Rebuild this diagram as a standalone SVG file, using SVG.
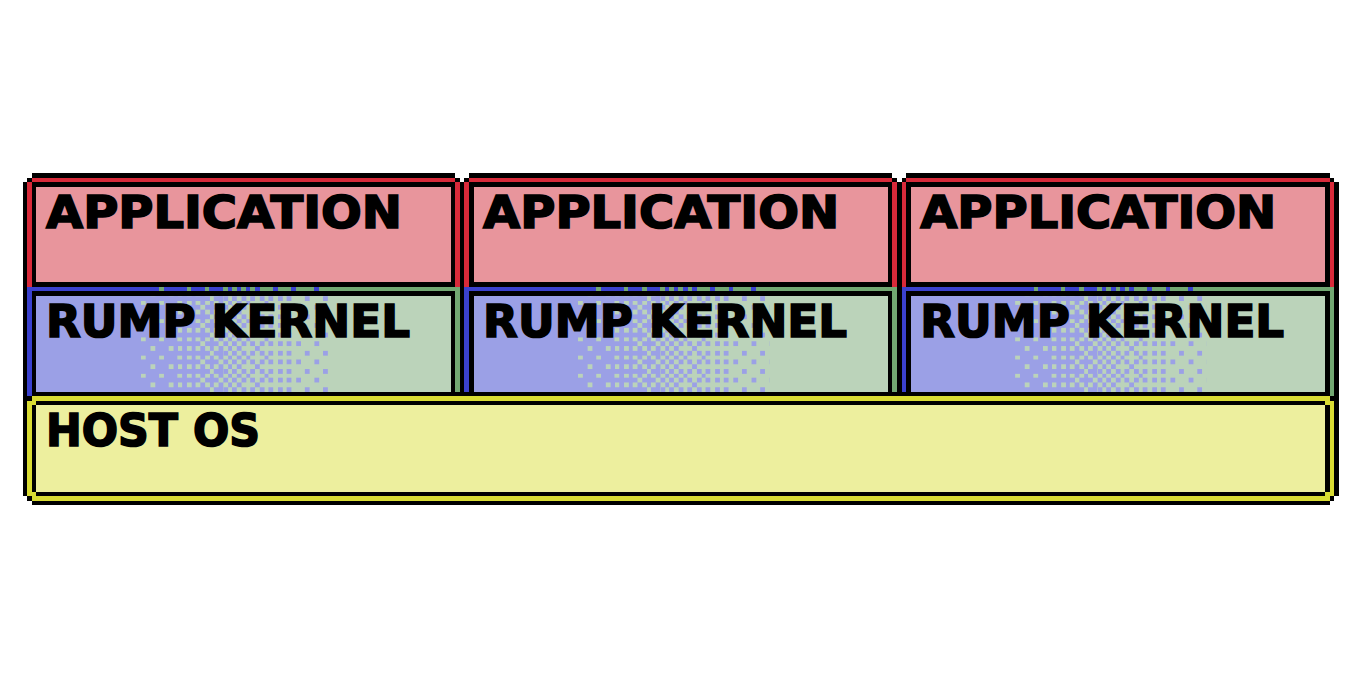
<svg xmlns="http://www.w3.org/2000/svg" xmlns:xlink="http://www.w3.org/1999/xlink" width="1366" height="683" viewBox="0 0 1366 683">
<style>
.k{fill:#000000}
.red{fill:#D82A3A}
.pink{fill:#E8959C}
.blue{fill:#3B41CE}
.pblue{fill:#9BA0E6}
.green{fill:#72A872}
.pgreen{fill:#BBD3BA}
.yel{fill:#D9DC33}
.pyel{fill:#EDEF9E}
rect,path{shape-rendering:crispEdges}
.lbl{font-family:"DejaVu Sans","Liberation Sans",sans-serif;font-weight:bold;font-size:44px;fill:#000000;stroke:#000000;stroke-width:1.6px}
</style>
<defs>
<pattern id="d2" patternUnits="userSpaceOnUse" x="0" y="0" width="4" height="4"><rect class="pblue" width="4" height="4"/><path class="pgreen" d="M1 0h1v1h-1zM3 2h1v1h-1z"/></pattern>
<pattern id="d4" patternUnits="userSpaceOnUse" x="0" y="0" width="4" height="4"><rect class="pblue" width="4" height="4"/><path class="pgreen" d="M1 0h1v1h-1zM3 2h1v1h-1zM3 0h1v1h-1zM1 2h1v1h-1z"/></pattern>
<pattern id="d6" patternUnits="userSpaceOnUse" x="0" y="0" width="4" height="4"><rect class="pblue" width="4" height="4"/><path class="pgreen" d="M1 0h1v1h-1zM3 2h1v1h-1zM3 0h1v1h-1zM1 2h1v1h-1zM2 1h1v1h-1zM0 3h1v1h-1z"/></pattern>
<pattern id="d8" patternUnits="userSpaceOnUse" x="0" y="0" width="4" height="4"><rect class="pblue" width="4" height="4"/><path class="pgreen" d="M1 0h1v1h-1zM3 2h1v1h-1zM3 0h1v1h-1zM1 2h1v1h-1zM2 1h1v1h-1zM0 3h1v1h-1zM0 1h1v1h-1zM2 3h1v1h-1z"/></pattern>
<pattern id="d10" patternUnits="userSpaceOnUse" x="0" y="0" width="4" height="4"><rect class="pgreen" width="4" height="4"/><path class="pblue" d="M0 0h1v1h-1zM2 2h1v1h-1zM1 1h1v1h-1zM3 3h1v1h-1zM3 1h1v1h-1zM1 3h1v1h-1z"/></pattern>
<pattern id="d12" patternUnits="userSpaceOnUse" x="0" y="0" width="4" height="4"><rect class="pgreen" width="4" height="4"/><path class="pblue" d="M1 1h1v1h-1zM3 3h1v1h-1zM3 1h1v1h-1zM1 3h1v1h-1z"/></pattern>
<pattern id="d14" patternUnits="userSpaceOnUse" x="0" y="0" width="4" height="4"><rect class="pgreen" width="4" height="4"/><path class="pblue" d="M3 1h1v1h-1zM1 3h1v1h-1z"/></pattern>
<g id="appShape">
<rect class="k" x="7" y="38" width="93" height="25"/>
<rect class="k" x="5" y="40" width="97" height="23"/>
<rect class="k" x="6" y="39" width="95" height="1"/>
<rect class="red" x="7" y="39" width="93" height="1"/>
<rect class="red" x="6" y="40" width="1" height="23"/>
<rect class="red" x="100" y="40" width="1" height="23"/>
<rect class="pink" x="8" y="41" width="91" height="21"/>
</g>
<g id="rumpShape">
<rect class="k" x="5" y="63" width="97" height="25"/>
<rect class="blue" x="6" y="63" width="95" height="1"/>
<path class="green" d="M35 63h1v1h-1zM41 63h1v1h-1zM45 63h1v1h-1zM49 63h1v1h-1zM51 63h1v1h-1zM53 63h1v1h-1zM55 63h1v1h-1zM57 63h3v1h-3zM61 63h3v1h-3zM65 63h4v1h-4zM70 63h31v1h-31z"/>
<rect class="blue" x="6" y="64" width="1" height="23"/>
<rect class="green" x="100" y="64" width="1" height="23"/>
<rect class="pblue" x="8" y="65" width="23" height="21"/>
<rect fill="url(#d2)" x="31" y="65" width="8" height="21"/>
<rect fill="url(#d4)" x="39" y="65" width="5" height="21"/>
<rect fill="url(#d6)" x="44" y="65" width="5" height="21"/>
<rect fill="url(#d8)" x="49" y="65" width="5" height="21"/>
<rect fill="url(#d10)" x="54" y="65" width="5" height="21"/>
<rect fill="url(#d12)" x="59" y="65" width="6" height="21"/>
<rect fill="url(#d14)" x="65" y="65" width="8" height="21"/>
<rect class="pgreen" x="73" y="65" width="26" height="21"/>
</g>
</defs>
<rect x="0" y="0" width="1366" height="683" fill="#FFFFFF"/>
<g id="app1">
<use xlink:href="#appShape" transform="scale(4.55333)"/>
<text class="lbl" x="46" y="227.5" textLength="356" lengthAdjust="spacingAndGlyphs">APPLICATION</text>
</g>
<g id="app2">
<use xlink:href="#appShape" transform="scale(4.55333)" x="96"/>
<text class="lbl" x="483.1" y="227.5" textLength="356" lengthAdjust="spacingAndGlyphs">APPLICATION</text>
</g>
<g id="app3">
<use xlink:href="#appShape" transform="scale(4.55333)" x="192"/>
<text class="lbl" x="920.2" y="227.5" textLength="356" lengthAdjust="spacingAndGlyphs">APPLICATION</text>
</g>
<g id="rump1">
<use xlink:href="#rumpShape" transform="scale(4.55333)"/>
<text class="lbl" x="46" y="336.6" textLength="364" lengthAdjust="spacingAndGlyphs">RUMP KERNEL</text>
</g>
<g id="rump2">
<use xlink:href="#rumpShape" transform="scale(4.55333)" x="96"/>
<text class="lbl" x="483.1" y="336.6" textLength="364" lengthAdjust="spacingAndGlyphs">RUMP KERNEL</text>
</g>
<g id="rump3">
<use xlink:href="#rumpShape" transform="scale(4.55333)" x="192"/>
<text class="lbl" x="920.2" y="336.6" textLength="364" lengthAdjust="spacingAndGlyphs">RUMP KERNEL</text>
</g>
<g id="host">
<g transform="scale(4.55333)">
<rect class="k" x="7" y="86" width="285" height="25"/>
<rect class="k" x="5" y="88" width="289" height="21"/>
<rect class="k" x="6" y="87" width="287" height="23"/>
<rect class="yel" x="7" y="87" width="285" height="23"/>
<rect class="yel" x="6" y="88" width="287" height="21"/>
<rect class="k" x="8" y="88" width="283" height="21"/>
<rect class="k" x="7" y="89" width="285" height="19"/>
<rect class="pyel" x="8" y="89" width="283" height="19"/>
</g>
<text class="lbl" x="46" y="446" textLength="214" lengthAdjust="spacingAndGlyphs">HOST OS</text>
</g>
<g id="connectors"/>
</svg>
